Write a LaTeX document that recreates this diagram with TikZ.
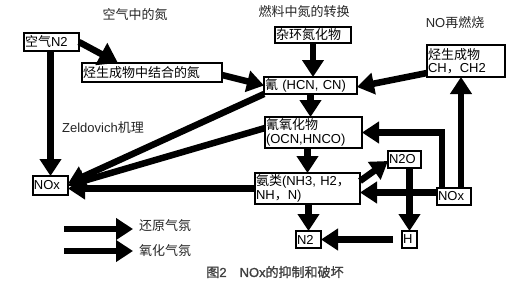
\documentclass[tikz,border=0pt]{standalone}
\usepackage{fontspec}
\setmainfont{Liberation Sans}
\newfontfamily\cjk{Noto Sans CJK SC}
\newfontfamily\cjkb[FakeBold=1.2]{Noto Sans CJK SC}
\newfontfamily\capfont[FakeBold=1.2]{Liberation Sans}
\usetikzlibrary{arrows.meta}
\begin{document}
\begin{tikzpicture}[x=1pt,y=-1pt,
  box/.style={draw, line width=1.1pt, inner sep=1pt, outer sep=0pt, anchor=north west, align=left, font=\fontsize{13}{13.5}\selectfont},
  lbl/.style={inner sep=0pt, font=\fontsize{13}{13.5}\selectfont, text=black!85},
  arr/.style={line width=6.5pt, line join=miter, -{Triangle[width=21pt,length=17pt]}}]
\useasboundingbox[fill=white] (0,0) rectangle (528,287);
% boxes
\node[box, minimum width=55pt, minimum height=18pt, text width=53pt] (air) at (24,33) {{\cjk 空气}N2};
\node[box, minimum width=140pt, minimum height=19pt, text width=138pt] (hc) at (82,63) {{\cjk 烃生成物中结合的氮}};
\node[box, minimum width=76pt, minimum height=16pt, text width=74pt] (het) at (275,27) {{\cjk 杂环氮化物}};
\node[box, minimum width=93pt, minimum height=17pt, text width=91pt] (hcn) at (264,77) {{\cjk 氰} (HCN, CN)};
\node[box, minimum width=97pt, minimum height=31pt, text width=95pt] (ocn) at (265,117) {{\cjk 氰氧化物}\\(OCN,HNCO)};
\node[box, minimum width=105pt, minimum height=31pt, text width=103pt] (nh) at (255,173) {{\cjk 氨类}(NH3, H2{\cjk ，}\\NH{\cjk ，}N)};
\node[box, minimum width=78pt, minimum height=32pt, text width=76pt] (ch) at (427,45) {{\cjk 烃生成物}\\CH{\cjk ，}CH2};
\node[box, minimum width=33pt, minimum height=17pt, text width=31pt] (n2o) at (388,151) {N2O};
\node[box, minimum width=34pt, minimum height=17pt, text width=32pt] (noxr) at (437,188) {NOx};
\node[box, minimum width=25pt, minimum height=17pt, text width=23pt] (n2) at (296,231) {N2};
\node[box, minimum width=15pt, minimum height=17pt, text width=13pt] (h) at (402,231) {H};
\node[box, minimum width=35pt, minimum height=19pt, text width=33pt] (noxl) at (33,176) {NOx};
% labels
\node[lbl] (t1) at (135,15) {\cjk 空气中的氮};
\node[lbl] (t2) at (304,12) {\cjk 燃料中氮的转换};
\node[lbl] (t3) at (455,23) {NO{\cjk 再燃烧}};
\node[lbl] (t4) at (103,128) {Zeldovich{\cjk 机理}};
\node[lbl] (t5) at (165,226) {\cjk 还原气氛};
\node[lbl] (t6) at (165,251) {\cjk 氧化气氛};
\node[lbl, text=black!75] (cap) at (275,272) {{\cjkb 图}{\capfont 2\quad NOx}{\cjkb 的抑制和破坏}};
% arrows
\draw[arr, -{Triangle[width=24pt,length=19pt]}] (air.east) -- ([xshift=36pt]hc.north west);
\draw[arr] ([yshift=-2.5pt]hc.east) -- (hcn.west);
\draw[arr] (het.south) -- (het.south |- hcn.north);
\draw[arr] (hcn.south) -- (hcn.south |- ocn.north);
\draw[arr] (nh.north |- ocn.south) -- (nh.north);
\draw[arr] (n2.north |- nh.south) -- (n2.north);
\draw[arr] ([yshift=4pt]ch.south west) -- ([yshift=-1.5pt]hcn.east);
\draw[arr] (noxl.north |- air.south) -- (noxl.north);
\draw[arr] (hcn.south west) -- ([yshift=2pt]noxl.east);
\draw[arr] ([yshift=4.5pt]ocn.west) -- (noxl.east);
\draw[arr] (nh.west) -- (nh.west -| noxl.east);
\coordinate (p12) at ([xshift=-10pt]noxr.north east);
\draw[arr] (p12) -- (p12 |- ch.south);
\coordinate (p13) at ([xshift=5pt]noxr.north west);
\draw[arr] (p13) -- (p13 |- ocn.east) -- (ocn.east);
\coordinate (p14) at ([yshift=4pt]noxr.west);
\draw[arr] (p14) -- (p14 -| nh.east);
\draw[arr] ([yshift=-8pt]nh.north east) -- ([yshift=7pt]n2o.south west);
\coordinate (p16) at (h.north);
\draw[arr] (p16 |- n2o.south) -- (p16);
\draw[arr, shorten <=9pt] (h.west) -- (n2.east);
% legend
\coordinate (l1a) at (64,229);
\coordinate (l1b) at (133,229);
\coordinate (l2a) at (64,251);
\coordinate (l2b) at (133,251);
\draw[arr] (l1a) -- (l1b);
\draw[arr] (l2a) -- (l2b);
\end{tikzpicture}
\end{document}
